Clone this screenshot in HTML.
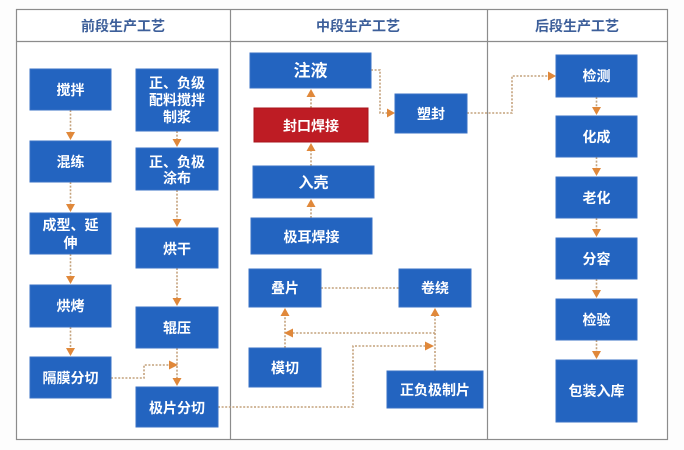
<!DOCTYPE html>
<html><head><meta charset="utf-8"><style>
html,body{margin:0;padding:0;background:#fff;}
svg{display:block;}
text{font-family:"Liberation Sans","Noto Sans CJK SC","WenQuanYi Zen Hei",sans-serif;font-weight:bold;}
.b{fill:#2364c0;stroke:#3a72c6;stroke-width:1;}
.t{fill:#fff;font-size:14px;text-anchor:middle;dominant-baseline:central;}
.h{fill:#3d5f9a;font-size:14px;text-anchor:middle;dominant-baseline:central;}
.c{fill:none;stroke:#c4a27c;stroke-width:1.6;stroke-dasharray:2 1.6;}
.a{fill:#e0883a;}
</style></head><body>
<svg width="684" height="450" viewBox="0 0 684 450" xmlns="http://www.w3.org/2000/svg">
<rect width="684" height="450" fill="#fdfdfd"/>
<!-- frame -->
<rect x="16.5" y="9.5" width="651" height="430" fill="#fff" stroke="#8c8c8c" stroke-width="1.2"/>
<line x1="16" y1="41.5" x2="668" y2="41.5" stroke="#8c8c8c" stroke-width="1.2"/>
<line x1="230.5" y1="9" x2="230.5" y2="440" stroke="#8c8c8c" stroke-width="1.2"/>
<line x1="487.5" y1="9" x2="487.5" y2="440" stroke="#8c8c8c" stroke-width="1.2"/>
<text class="h" x="123" y="26">前段生产工艺</text>
<text class="h" x="358" y="26">中段生产工艺</text>
<text class="h" x="577" y="26">后段生产工艺</text>

<!-- connectors -->
<g class="c">
<line x1="70.5" y1="110" x2="70.5" y2="134"/>
<line x1="70.5" y1="182" x2="70.5" y2="206"/>
<line x1="70.5" y1="254" x2="70.5" y2="278"/>
<line x1="70.5" y1="327" x2="70.5" y2="350"/>
<line x1="177" y1="131" x2="177" y2="141"/>
<line x1="177" y1="190" x2="177" y2="221"/>
<line x1="177" y1="268" x2="177" y2="300"/>
<line x1="177" y1="348" x2="177" y2="380"/>
<polyline points="111,378 144,378 144,365 170,365"/>
<polyline points="218,407 353,407 353,346 426,346"/>
<line x1="435" y1="371" x2="435" y2="314"/>
<polyline points="435,333 292,333"/>
<line x1="285" y1="348" x2="285" y2="314"/>
<line x1="321" y1="288" x2="399" y2="288"/>
<line x1="311" y1="218" x2="311" y2="205"/>
<line x1="311" y1="166" x2="311" y2="149"/>
<line x1="311" y1="108" x2="311" y2="95"/>
<polyline points="371,70 380,70 380,113 388,113"/>
<polyline points="467,113 512,113 512,76 549,76"/>
<line x1="596.5" y1="97" x2="596.5" y2="109"/>
<line x1="596.5" y1="157" x2="596.5" y2="170"/>
<line x1="596.5" y1="218" x2="596.5" y2="231"/>
<line x1="596.5" y1="279" x2="596.5" y2="292"/>
<line x1="596.5" y1="340" x2="596.5" y2="353"/>
</g>
<!-- arrowheads -->
<g class="a">
<polygon points="66,132 75,132 70.5,140"/>
<polygon points="66,204 75,204 70.5,212"/>
<polygon points="66,276 75,276 70.5,284"/>
<polygon points="66,348 75,348 70.5,356"/>
<polygon points="172.5,139 181.5,139 177,147"/>
<polygon points="172.5,219 181.5,219 177,227"/>
<polygon points="172.5,298 181.5,298 177,306"/>
<polygon points="172.5,378 181.5,378 177,386"/>
<polygon points="169,360.5 169,369.5 178,365"/>
<polygon points="425,341.5 425,350.5 434,346"/>
<polygon points="430.5,316 439.5,316 435,308"/>
<polygon points="293,328.5 293,337.5 284,333"/>
<polygon points="280.5,316 289.5,316 285,308"/>
<polygon points="306.5,207 315.5,207 311,199"/>
<polygon points="306.5,151 315.5,151 311,143"/>
<polygon points="306.5,97 315.5,97 311,89"/>
<polygon points="387,108.5 387,117.5 395,113"/>
<polygon points="548,71.5 548,80.5 556,76"/>
<polygon points="592,107 601,107 596.5,115"/>
<polygon points="592,168 601,168 596.5,176"/>
<polygon points="592,229 601,229 596.5,237"/>
<polygon points="592,290 601,290 596.5,298"/>
<polygon points="592,351 601,351 596.5,359"/>
</g>

<!-- left column boxes -->
<rect class="b" x="30" y="69" width="81" height="41"/>
<text class="t" x="70.5" y="90">搅拌</text>
<rect class="b" x="30" y="141" width="81" height="41"/>
<text class="t" x="70.5" y="162">混练</text>
<rect class="b" x="30" y="213" width="81" height="41"/>
<text class="t" x="70.5" y="225">成型、延</text>
<text class="t" x="70.5" y="243">伸</text>
<rect class="b" x="30" y="285" width="81" height="42"/>
<text class="t" x="70.5" y="306">烘烤</text>
<rect class="b" x="30" y="357" width="81" height="41"/>
<text class="t" x="70.5" y="378">隔膜分切</text>

<rect class="b" x="136" y="69" width="82" height="62"/>
<text class="t" x="177" y="83">正、负级</text>
<text class="t" x="177" y="100">配料搅拌</text>
<text class="t" x="177" y="117">制浆</text>
<rect class="b" x="136" y="148" width="82" height="42"/>
<text class="t" x="177" y="162">正、负极</text>
<text class="t" x="177" y="178">涂布</text>
<rect class="b" x="136" y="228" width="82" height="40"/>
<text class="t" x="177" y="249">烘干</text>
<rect class="b" x="136" y="307" width="82" height="41"/>
<text class="t" x="177" y="328">辊压</text>
<rect class="b" x="136" y="387" width="82" height="40"/>
<text class="t" x="177" y="408">极片分切</text>

<!-- middle column boxes -->
<rect class="b" x="250" y="53" width="121" height="35"/>
<text class="t" x="310.5" y="71" style="font-size:17px">注液</text>
<rect x="254" y="108" width="114" height="34" fill="#be1c24" stroke="#a8141c" stroke-width="1"/>
<text class="t" x="311" y="126">封口焊接</text>
<rect class="b" x="253" y="166" width="121" height="32"/>
<text class="t" x="313.5" y="183" style="font-size:15px">入壳</text>
<rect class="b" x="251" y="218" width="121" height="36"/>
<text class="t" x="311.5" y="237">极耳焊接</text>
<rect class="b" x="395" y="94" width="72" height="39"/>
<text class="t" x="431" y="114">塑封</text>
<rect class="b" x="249" y="269" width="72" height="38"/>
<text class="t" x="285" y="288">叠片</text>
<rect class="b" x="399" y="269" width="72" height="38"/>
<text class="t" x="435" y="288">卷绕</text>
<rect class="b" x="249" y="348" width="72" height="39"/>
<text class="t" x="285" y="368">模切</text>
<rect class="b" x="387" y="371" width="96" height="37"/>
<text class="t" x="435" y="390">正负极制片</text>

<!-- right column boxes -->
<rect class="b" x="556" y="55" width="81" height="42"/>
<text class="t" x="596.5" y="76">检测</text>
<rect class="b" x="556" y="116" width="81" height="41"/>
<text class="t" x="596.5" y="137">化成</text>
<rect class="b" x="556" y="177" width="81" height="41"/>
<text class="t" x="596.5" y="198">老化</text>
<rect class="b" x="556" y="238" width="81" height="41"/>
<text class="t" x="596.5" y="259">分容</text>
<rect class="b" x="556" y="299" width="81" height="41"/>
<text class="t" x="596.5" y="320">检验</text>
<rect class="b" x="556" y="360" width="81" height="62"/>
<text class="t" x="596.5" y="391">包装入库</text>
</svg>
</body></html>
